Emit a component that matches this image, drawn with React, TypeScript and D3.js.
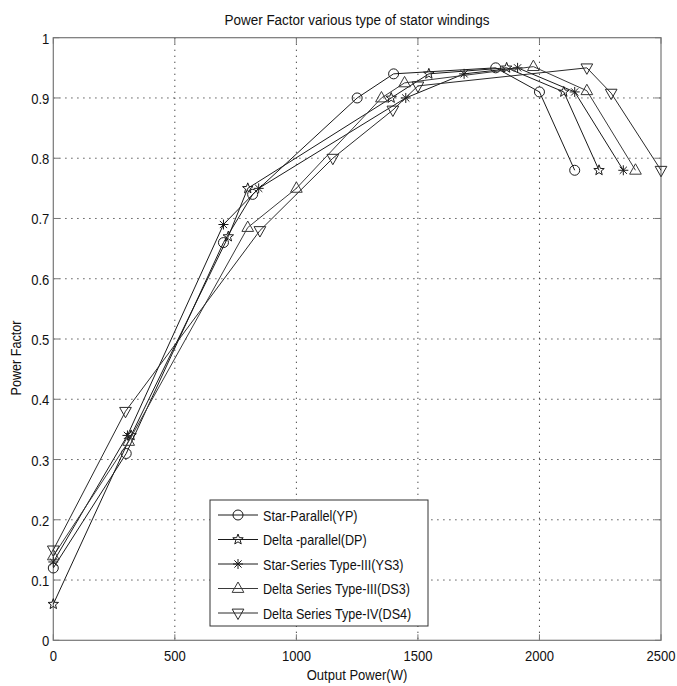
import React from "react";
import * as d3 from "d3";

const xTicks = [0, 500, 1000, 1500, 2000, 2500];
const yTicks = [0, 0.1, 0.2, 0.3, 0.4, 0.5, 0.6, 0.7, 0.8, 0.9, 1];

const ypX = [0, 300, 700, 820, 1250, 1400, 1820, 2000, 2145];
const ypY = [0.12, 0.31, 0.66, 0.74, 0.9, 0.94, 0.95, 0.91, 0.78];
const dpX = [0, 320, 720, 800, 1390, 1545, 1865, 2100, 2245];
const dpY = [0.06, 0.34, 0.67, 0.75, 0.9, 0.94, 0.95, 0.91, 0.78];
const ys3X = [0, 305, 700, 845, 1450, 1690, 1910, 2145, 2345];
const ys3Y = [0.13, 0.34, 0.69, 0.75, 0.9, 0.94, 0.95, 0.91, 0.78];
const ds3X = [0, 310, 800, 1000, 1350, 1445, 1975, 2195, 2395];
const ds3Y = [0.14, 0.33, 0.685, 0.75, 0.9, 0.925, 0.952, 0.912, 0.78];
const ds4X = [0, 297, 850, 1150, 1397, 1500, 2195, 2295, 2500];
const ds4Y = [0.15, 0.38, 0.68, 0.8, 0.88, 0.92, 0.95, 0.908, 0.78];

const seriesNames = [
  "Star-Parallel(YP)",
  "Delta -parallel(DP)",
  "Star-Series Type-III(YS3)",
  "Delta Series Type-III(DS3)",
  "Delta Series Type-IV(DS4)",
];
const markers = ["circle", "pentagram", "asterisk", "triUp", "triDown"];
const colors = ["#1a1a1a", "#1a1a1a", "#1a1a1a", "#3a3a3a", "#2a2a2a"];

const series = [
  { xs: ypX, ys: ypY },
  { xs: dpX, ys: dpY },
  { xs: ys3X, ys: ys3Y },
  { xs: ds3X, ys: ds3Y },
  { xs: ds4X, ys: ds4Y },
];

const W = 677;
const H = 686;
const L = 53.3, R = 661, T = 37.7, B = 640.3;
const FONT = "'Liberation Sans', Arial, sans-serif";
const SX = 0.87;

function Txt({ x, y, size, anchor, rotate, children }: any) {
  const tr = `translate(${x},${y})${rotate ? ` rotate(${rotate})` : ""} scale(${SX},1)`;
  return (
    <text transform={tr} textAnchor={anchor || "start"} fontFamily={FONT} fontSize={size} fill="#111">
      {children}
    </text>
  );
}

function Marker({ type, x, y, color }: { type: string; x: number; y: number; color: string }) {
  const s = { fill: "none", stroke: color, strokeWidth: 1 } as any;
  if (type === "circle") return <circle cx={x} cy={y} r={5} {...s} />;
  if (type === "pentagram") {
    const pts: string[] = [];
    for (let i = 0; i < 10; i++) {
      const r = i % 2 === 0 ? 5.5 : 2.3;
      const a = -Math.PI / 2 + (i * Math.PI) / 5;
      pts.push(`${x + r * Math.cos(a)},${y + r * Math.sin(a)}`);
    }
    return <polygon points={pts.join(" ")} {...s} />;
  }
  if (type === "asterisk") {
    const r = 5;
    const d = r * 0.72;
    return (
      <path
        d={`M${x - r},${y}L${x + r},${y}M${x},${y - r}L${x},${y + r}M${x - d},${y - d}L${x + d},${y + d}M${x - d},${y + d}L${x + d},${y - d}`}
        {...s}
      />
    );
  }
  if (type === "triUp") {
    const r = 6.5;
    return <polygon points={`${x},${y - r} ${x - r * 0.9},${y + r * 0.6} ${x + r * 0.9},${y + r * 0.6}`} {...s} />;
  }
  const r = 6.5;
  return <polygon points={`${x},${y + r} ${x - r * 0.9},${y - r * 0.6} ${x + r * 0.9},${y - r * 0.6}`} {...s} />;
}

export default function App() {
  const x = d3.scaleLinear().domain([0, 2500]).range([L, R]);
  const y = d3.scaleLinear().domain([0, 1]).range([B, T]);
  const line = d3
    .line<[number, number]>()
    .x((d) => x(d[0]))
    .y((d) => y(d[1]));

  const legX = 210, legY = 500, legW = 218, legH = 126;

  return (
    <svg width={W} height={H} style={{ position: "absolute", left: 0, top: 0, background: "#fff" }}>
      <rect x={0} y={0} width={W} height={H} fill="#fff" />
      {/* grid */}
      {xTicks.slice(1, -1).map((t) => (
        <line key={"gx" + t} x1={x(t)} x2={x(t)} y1={T} y2={B} stroke="#333" strokeWidth={1} strokeDasharray="1.2,4.8" />
      ))}
      {yTicks.slice(1, -1).map((t) => (
        <line key={"gy" + t} x1={L} x2={R} y1={y(t)} y2={y(t)} stroke="#333" strokeWidth={1} strokeDasharray="1.2,4.8" />
      ))}
      {/* box */}
      <rect x={L} y={T} width={R - L} height={B - T} fill="none" stroke="#777" strokeWidth={1.2} />
      {/* ticks */}
      {xTicks.map((t) => (
        <g key={"tx" + t}>
          <line x1={x(t)} x2={x(t)} y1={B} y2={B - 6} stroke="#777" />
          <line x1={x(t)} x2={x(t)} y1={T} y2={T + 6} stroke="#777" />
          <Txt x={x(t)} y={B + 21} size={15} anchor="middle">
            {t}
          </Txt>
        </g>
      ))}
      {yTicks.map((t) => (
        <g key={"ty" + t}>
          <line x1={L} x2={L + 6} y1={y(t)} y2={y(t)} stroke="#777" />
          <line x1={R} x2={R - 6} y1={y(t)} y2={y(t)} stroke="#777" />
          <Txt x={L - 4} y={y(t) + 6} size={15} anchor="end">
            {d3.format("~g")(t)}
          </Txt>
        </g>
      ))}
      {/* series */}
      {series.map((s, i) => {
        const pts = s.xs.map((v, j) => [v, s.ys[j]] as [number, number]);
        return (
          <g key={"s" + i}>
            <path d={line(pts) || ""} fill="none" stroke={colors[i]} strokeWidth={1} />
            {pts.map((p, j) => (
              <Marker key={j} type={markers[i]} x={x(p[0])} y={y(p[1])} color={colors[i]} />
            ))}
          </g>
        );
      })}
      {/* legend */}
      <rect x={legX} y={legY} width={legW} height={legH} fill="#fff" stroke="#333" strokeWidth={1} />
      {seriesNames.map((n, i) => {
        const yy = legY + 15 + i * 24.5;
        return (
          <g key={"l" + i}>
            <line x1={legX + 8} x2={legX + 48} y1={yy} y2={yy} stroke={colors[i]} />
            <Marker type={markers[i]} x={legX + 28} y={yy} color={colors[i]} />
            <Txt x={legX + 53} y={yy + 5.5} size={14.5}>
              {n}
            </Txt>
          </g>
        );
      })}
      {/* labels */}
      <Txt x={357} y={25} size={15.5} anchor="middle">
        Power Factor various type of stator windings
      </Txt>
      <Txt x={357} y={680} size={15} anchor="middle">
        Output Power(W)
      </Txt>
      <Txt x={21} y={358} size={14.5} anchor="middle" rotate={-90}>
        Power Factor
      </Txt>
    </svg>
  );
}
